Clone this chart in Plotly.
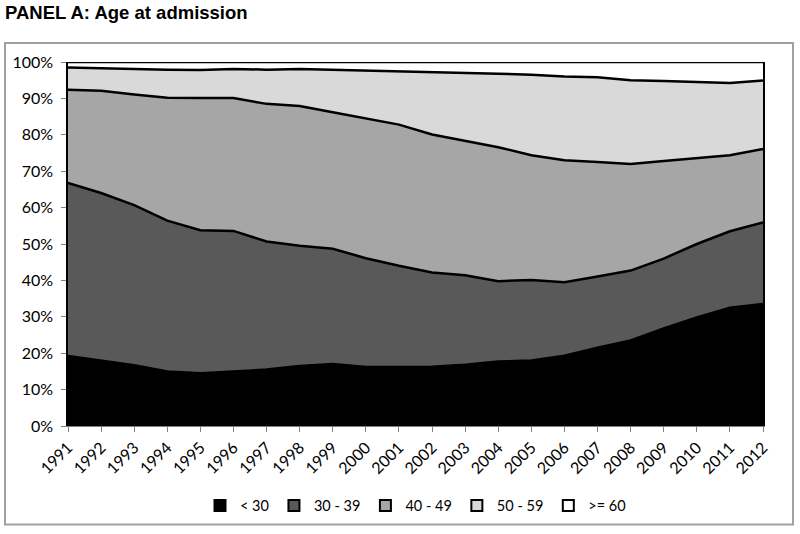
import plotly.graph_objects as go

years = [str(y) for y in range(1991, 2013)]

# shares (%) per age group
under30 = [19.2, 18.0, 16.7, 15.0, 14.5, 15.0, 15.5, 16.5, 17.0, 16.2, 16.2, 16.3, 16.8, 17.7, 18.0, 19.3, 21.5, 23.5, 26.8, 29.8, 32.5, 33.5]
age30_39 = [47.6, 46.0, 44.0, 41.4, 39.3, 38.6, 35.2, 33.0, 31.7, 29.9, 27.8, 25.9, 24.6, 22.1, 22.1, 20.2, 19.6, 19.2, 19.2, 20.2, 21.0, 22.4]
age40_49 = [25.6, 28.1, 30.4, 33.8, 36.3, 36.5, 37.8, 38.4, 37.5, 38.4, 38.8, 37.9, 36.9, 36.8, 34.3, 33.5, 31.4, 29.3, 26.8, 23.7, 20.9, 20.2]
age50_59 = [6.1, 6.3, 7.0, 7.7, 7.7, 8.0, 9.4, 10.2, 11.7, 13.2, 14.6, 17.3, 18.9, 20.2, 22.1, 23.0, 23.3, 23.0, 22.0, 20.9, 19.8, 18.8]
age60_plus = [1.5, 1.6, 1.9, 2.1, 2.2, 1.9, 2.1, 1.9, 2.1, 2.3, 2.6, 2.6, 2.8, 3.2, 3.5, 4.0, 4.2, 5.0, 5.2, 5.4, 5.8, 5.1]

series_names = ["< 30", "30 - 39", "40 - 49", "50 - 59", ">= 60"]
series_values = [under30, age30_39, age40_49, age50_59, age60_plus]
colors = ["#000000", "#595959", "#a6a6a6", "#d9d9d9", "#ffffff"]

fig = go.Figure()
for name, vals, col in zip(series_names, series_values, colors):
    fig.add_trace(go.Scatter(
        x=years, y=vals, name=name, mode="lines",
        stackgroup="one", fillcolor=col, showlegend=False,
        line=dict(color="#000000", width=2.5),
    ))
# legend entries as square markers with black border
for name, col in zip(series_names, colors):
    fig.add_trace(go.Scatter(
        x=[None], y=[None], name=name, mode="markers",
        marker=dict(symbol="square", size=11, color=col, line=dict(color="#000000", width=2)),
    ))

fig.update_layout(
    width=800, height=534,
    margin=dict(l=68, r=37, t=62, b=106),
    paper_bgcolor="white", plot_bgcolor="white",
    font=dict(family="Lato, Liberation Sans, sans-serif", size=16, color="#000000"),
    title=dict(text="<b>PANEL A: Age at admission</b>", x=5/800, xref="container", xanchor="left",
               y=1-13/534, yref="container", yanchor="middle",
               font=dict(family="Liberation Sans, Arial, sans-serif", size=18.5, color="#000000")),
    showlegend=True,
    legend=dict(orientation="h", x=0.5, xanchor="center", y=-0.2186, yanchor="middle",
                font=dict(size=14.5), traceorder="normal", itemwidth=30, bgcolor="rgba(0,0,0,0)"),
    xaxis=dict(type="category", range=[0, 21], tickangle=-45, showgrid=False, automargin=False,
               showline=True, linecolor="#808080", linewidth=1, mirror=False,
               ticks="outside", ticklen=5, tickcolor="#808080", zeroline=False),
    yaxis=dict(range=[0, 100], dtick=10, ticksuffix="%", showgrid=False, automargin=False,
               showline=True, linecolor="#000000", linewidth=1.5, mirror=True,
               ticks="outside", ticklen=5, tickcolor="#808080", zeroline=False,
               ticklabelstandoff=5),
    shapes=[dict(type="rect", xref="paper", yref="paper",
                 x0=(5-68)/695, x1=(793-68)/695, y0=(428-527)/366, y1=(428-43)/366,
                 line=dict(color="#a0a0a0", width=2), fillcolor="rgba(0,0,0,0)", layer="below")],
)

# remove the default page margin so the figure sits at the window's top-left corner
fig.write_html("out.html", config={"displayModeBar": False},
               post_script="document.body.style.margin='0px';")
